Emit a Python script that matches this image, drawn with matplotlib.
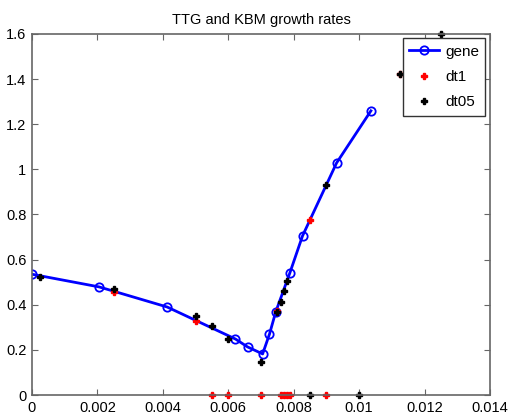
import matplotlib.pyplot as plt

# gene growth rates
gene_x = [0.0, 0.00205, 0.00413, 0.00622, 0.00659, 0.00705, 0.00726, 0.00745,
          0.00788, 0.00827, 0.00931, 0.01036]
gene_y = [0.535, 0.479, 0.39, 0.248, 0.213, 0.182, 0.27, 0.368,
          0.54, 0.705, 1.028, 1.259]

# dt1 points
dt1_x = [0.0025, 0.005, 0.0075, 0.0085, 0.01125,
         0.0055, 0.006, 0.007, 0.0076, 0.0077, 0.0078, 0.0079, 0.009]
dt1_y = [0.455, 0.33, 0.37, 0.775, 1.42,
         0.0, 0.0, 0.0, 0.0, 0.0, 0.0, 0.0, 0.0]

# dt05 points
dt05_x = [0.00025, 0.0025, 0.005, 0.0055, 0.006, 0.007, 0.0075, 0.0076,
          0.0077, 0.0078, 0.009, 0.01125, 0.0125, 0.0085, 0.01]
dt05_y = [0.523, 0.47, 0.35, 0.306, 0.248, 0.145, 0.368, 0.41,
          0.46, 0.505, 0.93, 1.42, 1.6, 0.0, 0.0]

plt.rcParams['font.family'] = ['Liberation Sans', 'DejaVu Sans']

fig = plt.figure(figsize=(5.12, 4.18), dpi=100)
ax = fig.add_axes([0.0625, 0.055, 0.8945, 0.864])

ax.plot(gene_x, gene_y, '-o', color='blue', lw=2, ms=6, mfc='none',
        mew=1.3, label='gene')
ax.plot(dt1_x, dt1_y, 'P', color='red', ms=5, ls='none', label='dt1',
        clip_on=False)
ax.plot(dt05_x, dt05_y, 'P', color='black', ms=5, ls='none', label='dt05',
        clip_on=False)

ax.set_xlim(0, 0.014)
ax.set_ylim(0, 1.6)
ax.set_xticks([0, 0.002, 0.004, 0.006, 0.008, 0.01, 0.012, 0.014])
ax.set_xticklabels(['0', '0.002', '0.004', '0.006', '0.008', '0.01', '0.012', '0.014'])
ax.set_yticks([0, 0.2, 0.4, 0.6, 0.8, 1, 1.2, 1.4, 1.6])
ax.set_yticklabels(['0', '0.2', '0.4', '0.6', '0.8', '1', '1.2', '1.4', '1.6'])
ax.tick_params(direction='in', top=True, right=True, labelsize=10.5, length=4,
               color='#666666', pad=4)
for s in ax.spines.values():
    s.set_color('#666666')
    s.set_linewidth(1.2)

ax.set_title('TTG and KBM growth rates', fontsize=10.5, pad=7)

leg = ax.legend(loc='upper right', fontsize=11, fancybox=False,
                edgecolor='#333333', framealpha=1, borderaxespad=0.3,
                handlelength=2.0, handletextpad=0.4, borderpad=0.4,
                labelspacing=0.75)
leg.get_frame().set_linewidth(1.0)

fig.savefig('out.png', dpi=100)
